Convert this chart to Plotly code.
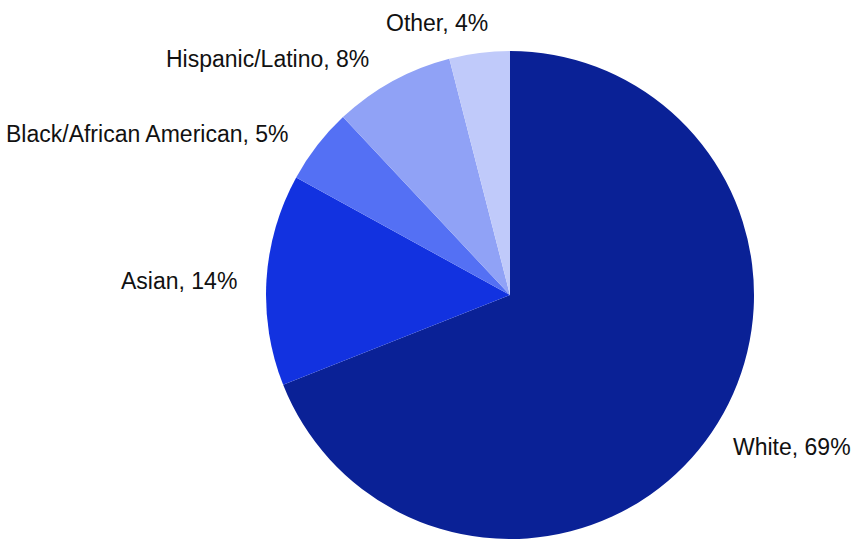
import plotly.graph_objects as go

categories = ["White", "Asian", "Black/African American", "Hispanic/Latino", "Other"]
values = [69, 14, 5, 8, 4]
colors = ["#0a2196", "#1232e0", "#5470f4", "#90a2f6", "#c0cafa"]

fig = go.Figure(go.Pie(
    labels=categories,
    values=values,
    sort=False,
    direction="clockwise",
    rotation=0,
    marker=dict(colors=colors, line=dict(width=0)),
    textinfo="none",
    showlegend=False,
    hoverinfo="label+percent",
    domain=dict(x=[0.3122, 0.885], y=[0.0, 0.9054]),
))

# outside labels, placed beside their slices (paper coordinates)
label_pos = {
    "White": (731 / 852, 1 - 447 / 539, "left"),
    "Asian": (239 / 852, 1 - 281 / 539, "right"),
    "Black/African American": (291 / 852, 1 - 134 / 539, "right"),
    "Hispanic/Latino": (371 / 852, 1 - 59 / 539, "right"),
    "Other": (384 / 852, 1 - 23 / 539, "left"),
}
for cat, val in zip(categories, values):
    x, y, anchor = label_pos[cat]
    fig.add_annotation(
        x=x, y=y, xref="paper", yref="paper",
        text=f"{cat}, {val}%",
        showarrow=False,
        xanchor=anchor, yanchor="middle",
        font=dict(family="Liberation Sans, Arial, sans-serif", size=23, color="#111111"),
    )

fig.update_layout(
    width=852, height=539,
    margin=dict(l=0, r=0, t=0, b=0),
    paper_bgcolor="white",
    plot_bgcolor="white",
)

fig.write_html(
    "out.html",
    config={"displayModeBar": False},
    post_script="document.body.style.margin='0';",
)
